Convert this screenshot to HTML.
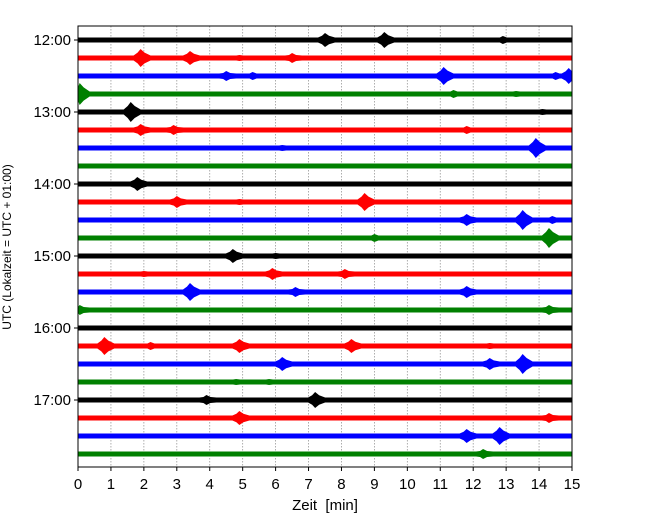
<!DOCTYPE html>
<html><head><meta charset="utf-8"><style>
body{margin:0;background:#fff;}
svg{display:block;font-family:"Liberation Sans","DejaVu Sans",sans-serif;}
</style></head><body>
<svg id="c" width="650" height="520"></svg>
<script>
const rowLabels=["12:00","","","","13:00","","","","14:00","","","","15:00","","","","16:00","","","","17:00","","",""];
const xTicks=[0,1,2,3,4,5,6,7,8,9,10,11,12,13,14,15];
const colors=["#000000","#ff0000","#0000ff","#008000"];
// events: [row, minute, amplitude(px)]
const evRows=[0,0,0,1,1,1,1,2,2,2,2,2,3,3,3,4,4,5,5,5,6,6,8,9,9,9,10,10,10,11,11,12,12,13,13,13,14,14,14,15,15,17,17,17,17,17,18,18,18,19,19,20,20,21,21,22,22,23];
const evMin=[7.5,9.3,12.9,1.9,3.4,6.5,4.9,4.5,5.3,11.1,14.9,14.5,0.05,11.4,13.3,1.6,14.1,1.9,2.9,11.8,13.9,6.2,1.8,3.0,8.7,4.9,11.8,13.5,14.4,14.3,9.0,4.7,6.0,5.9,8.1,2.0,3.4,6.6,11.8,0.05,14.3,0.8,4.9,8.3,2.2,12.5,6.2,12.5,13.5,4.8,5.8,3.9,7.2,4.9,14.3,11.8,12.8,12.3];
const evAmp=[7,8,4,9,7,5,3,5,4,9,8,4,11,4,3,10,3,6,5,4,10,3,7,6,9,3,6,10,4,10,4,7,3,6,5,3,9,5,6,5,5,9,7,7,4,3,7,6,10,3,3,5,8,7,5,7,9,5];
const NS="http://www.w3.org/2000/svg";
const svg=document.getElementById('c');
const L=78,R=572,T=26,B=467;
const xs=m=>L+(R-L)*m/15;
const ys=r=>40+18*r;
function mk(t,a,p){const e=document.createElementNS(NS,t);for(const k in a)e.setAttribute(k,a[k]);(p||svg).appendChild(e);return e;}
xTicks.forEach(t=>{
 if(t>0&&t<15){const g=mk('line',{x1:xs(t),x2:xs(t),y1:T,y2:B,stroke:'#999','stroke-width':0.8,'stroke-dasharray':'1.5,1.5'});
 
 }
});
rowLabels.forEach((lab,r)=>{
 const c=colors[r%4];
 const band=mk('rect',{x:L,y:ys(r)-2.5,width:R-L,height:5,fill:c});
 
 
});
evRows.forEach((r,i)=>{
 const c=colors[r%4],x=xs(evMin[i]),a=evAmp[i],y=ys(r);
 const x0=Math.max(L,x-7),x1=Math.min(R,x+10),xa=Math.max(L,x-3),xb=Math.min(R,x+4);
 const a2=Math.max(2.5,a*0.6);
 const p=mk('polygon',{points:`${x0},${y-2.5} ${xa},${y-a2} ${x},${y-a} ${xb},${y-a2} ${x1},${y-2.5} ${x1},${y+2.5} ${xb},${y+a2} ${x},${y+a} ${xa},${y+a2} ${x0},${y+2.5}`,fill:c});
 
 
});
const f=mk('rect',{x:L,y:T,width:R-L,height:B-T,fill:'none',stroke:'#000','stroke-width':1});


xTicks.forEach(t=>{
 mk('line',{x1:xs(t),x2:xs(t),y1:B,y2:B+4,stroke:'#000'});
 const tx=mk('text',{x:xs(t),y:B+22,'text-anchor':'middle','font-size':15});
 tx.textContent=t;
 
 
});
rowLabels.forEach((lab,r)=>{
 if(!lab)return;
 mk('line',{x1:L-4,x2:L,y1:ys(r),y2:ys(r),stroke:'#000'});
 const tx=mk('text',{x:L-7,y:ys(r)+5,'text-anchor':'end','font-size':15});
 tx.textContent=lab;
 
 
});
const xl=mk('text',{x:325,y:510,'text-anchor':'middle','font-size':15,style:'white-space:pre'});
xl.textContent='Zeit  [min]';


const yl=mk('text',{x:0,y:0,'text-anchor':'middle','font-size':12,transform:'translate(11,247) rotate(-90)'});
yl.textContent='UTC (Lokalzeit = UTC + 01:00)';


</script>
</body></html>
